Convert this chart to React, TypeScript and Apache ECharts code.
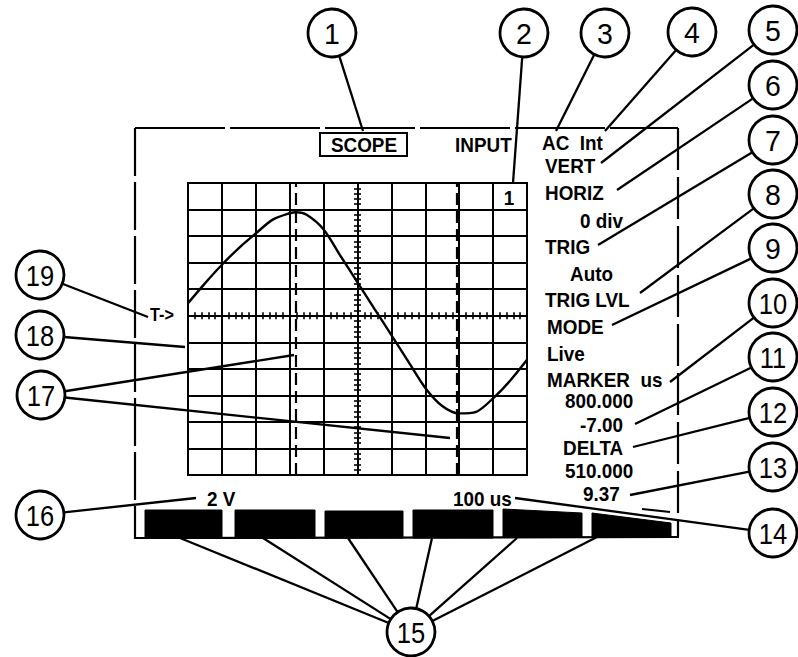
import React, { useEffect, useRef } from "react";
import * as echarts from "echarts";

// ---- data ----
const WAVE_X = [-5, -4.5, -4, -3.5, -3, -2.5, -2, -1.8, -1.5, -1, -0.5, 0, 0.5, 1, 1.5, 2, 2.5, 3, 3.5, 4, 4.5, 5];
const WAVE_Y = [0.47, 1.22, 1.92, 2.55, 3.1, 3.62, 3.86, 3.9, 3.8, 3.25, 2.25, 1.26, 0.26, -0.73, -1.73, -2.72, -3.4, -3.68, -3.62, -3.11, -2.45, -1.66];
const CURSOR_X = [-1.81, 2.94];
const CALLOUT_IDS = ["1", "2", "3", "4", "5", "6", "7", "8", "9", "10", "11", "12", "13", "14", "15", "16", "17", "18", "19"];
const PANEL_TEXT = ["AC  Int", "VERT", "HORIZ", "0 div", "TRIG", "Auto", "TRIG LVL", "MODE", "Live", "MARKER  us", "800.000", "-7.00", "DELTA", "510.000", "9.37"];
const TITLE_TEXT = "SCOPE";
const INPUT_TEXT = "INPUT";
const CHANNEL_TEXT = "1";
const TRIG_TEXT = "T->";
const VOLT_TEXT = "2 V";
const TIME_TEXT = "100 us";

// ---- layout (pixels) ----
const CALLOUT_POS = [
  [332, 33], [524, 33], [605, 33], [692, 32], [773, 30], [773, 85], [773, 140], [773, 194], [773, 248],
  [773, 303], [773, 357], [773, 412], [773, 467], [773, 533], [411, 632], [40, 515], [41, 395], [40, 335], [40, 275],
];
const LEADERS = [
  [0, 363, 131], [1, 513, 183], [2, 556, 131], [3, 605, 131], [4, 601, 163], [5, 617, 190], [6, 598, 245],
  [7, 640, 293], [8, 612, 325], [9, 670, 382], [10, 635, 424], [11, 633, 447], [12, 630, 495], [13, 515, 498],
  [14, 180, 538], [14, 263, 538], [14, 348, 538], [14, 432, 538], [14, 517, 538], [14, 597, 537],
  [15, 196, 498], [16, 294, 355], [16, 450, 438], [17, 185, 347], [18, 148, 317],
];
const PANEL_POS = [
  [542, 143], [545, 166], [545, 193], [580, 221], [545, 247], [570, 274], [545, 300], [547, 327], [547, 354],
  [547, 380], [565, 401], [580, 425], [563, 448], [565, 471], [583, 494],
];
const KEYS = [
  [[145, 510], [222, 510], [222, 538], [145, 538]],
  [[235, 510], [315, 510], [315, 538], [235, 538]],
  [[325, 511], [403, 511], [403, 538], [325, 538]],
  [[413, 510], [493, 510], [493, 538], [413, 538]],
  [[503, 509], [582, 513], [582, 537], [503, 537]],
  [[592, 513], [671, 523], [671, 537], [592, 537]],
];

const FONT = '"Liberation Sans", Arial, Helvetica, sans-serif';
const R = 24;

export default function App() {
  const ref = useRef<HTMLDivElement>(null);
  useEffect(() => {
    if (!ref.current) return;
    const chart = echarts.init(ref.current, undefined, { renderer: "svg" });
    const black = "#000";
    const graphics: any[] = [];

    const frame = (x1: number, y1: number, x2: number, y2: number, dash: any) => ({
      type: "line", z: 5, shape: { x1, y1, x2, y2 },
      style: { stroke: black, lineWidth: 2.2, lineDash: dash },
    });
    graphics.push(frame(135, 128, 678, 128, [90, 5]));
    graphics.push(frame(135, 128, 135, 539, [48, 6]));
    graphics.push(frame(678, 128, 678, 537, [42, 7]));
    graphics.push(frame(135, 538, 679, 537, null));
    graphics.push(frame(642, 509, 670, 512, null));

    KEYS.forEach((pts) => {
      graphics.push({ type: "polygon", z: 5, shape: { points: pts }, style: { fill: black, stroke: black, lineWidth: 1 } });
    });

    graphics.push({ type: "rect", z: 5, shape: { x: 320, y: 133, width: 87, height: 23 }, style: { fill: "none", stroke: black, lineWidth: 2 } });
    const txt = (text: string, x: number, y: number, size: number, align = "left", weight = "bold", sx = 0.9) => ({
      type: "text", z: 10, x, y, scaleX: sx,
      style: {
        text, fill: black, font: `${weight} ${size}px ${FONT}`,
        align, verticalAlign: "middle", textAlign: align, textVerticalAlign: "middle",
      },
    });
    graphics.push(txt(TITLE_TEXT, 364, 145, 21, "center"));
    graphics.push(txt(INPUT_TEXT, 455, 145, 21));
    graphics.push(txt(CHANNEL_TEXT, 509, 198, 21, "center"));
    graphics.push(txt(TRIG_TEXT, 150, 315, 18));
    graphics.push(txt(VOLT_TEXT, 207, 499, 21));
    graphics.push(txt(TIME_TEXT, 453, 499, 21));
    PANEL_TEXT.forEach((t, i) => graphics.push(txt(t, PANEL_POS[i][0], PANEL_POS[i][1], 21)));

    LEADERS.forEach(([ci, tx, ty]) => {
      const [cx, cy] = CALLOUT_POS[ci];
      const dx = tx - cx, dy = ty - cy;
      const d = Math.hypot(dx, dy);
      const sx = cx + (dx / d) * R, sy = cy + (dy / d) * R;
      graphics.push({ type: "line", z: 8, shape: { x1: sx, y1: sy, x2: tx, y2: ty }, style: { stroke: black, lineWidth: 2.3 } });
    });

    CALLOUT_IDS.forEach((id, i) => {
      const [cx, cy] = CALLOUT_POS[i];
      graphics.push({ type: "circle", z: 9, shape: { cx, cy, r: R }, style: { fill: "#fff", stroke: black, lineWidth: 2.8 } });
      graphics.push(txt(id, cx, cy + 1, 30, "center", "normal", id.length > 1 ? 0.85 : 0.95));
    });

    const axisCommon = {
      type: "value", min: -5, max: 5, interval: 1,
      axisLabel: { show: false },
      axisLine: { show: true, onZero: true, lineStyle: { color: black, width: 2 } },
      axisTick: { show: true, length: 3.5, lineStyle: { color: black, width: 1.6 } },
      minorTick: { show: true, splitNumber: 5, length: 3.5, lineStyle: { color: black, width: 1.6 } },
    };
    const yCommon = { ...axisCommon, min: -6, max: 5 };

    chart.setOption({
      animation: false,
      backgroundColor: "#fff",
      grid: { left: 188, top: 183, width: 339, height: 292, show: true, borderColor: black, borderWidth: 2 },
      xAxis: [
        { ...axisCommon, position: "bottom", splitLine: { show: true, lineStyle: { color: black, width: 2 } } },
        { ...axisCommon, position: "top", splitLine: { show: false } },
      ],
      yAxis: [
        { ...yCommon, position: "left", splitLine: { show: true, lineStyle: { color: black, width: 2 } } },
        { ...yCommon, position: "right", splitLine: { show: false } },
      ],
      series: [
        {
          type: "line",
          xAxisIndex: 0,
          yAxisIndex: 0,
          data: WAVE_X.map((x, i) => [x, WAVE_Y[i]]),
          symbol: "none",
          smooth: 0.3,
          lineStyle: { color: black, width: 2.4 },
          z: 3,
          markLine: {
            silent: true,
            symbol: "none",
            label: { show: false },
            lineStyle: { color: black, width: 2.2, type: [12, 6] },
            data: CURSOR_X.map((x) => ({ xAxis: x })),
          },
        },
      ],
      graphic: graphics,
    });
    return () => chart.dispose();
  }, []);
  return <div ref={ref} style={{ position: "absolute", left: 0, top: 0, width: 798, height: 657 }} />;
}
